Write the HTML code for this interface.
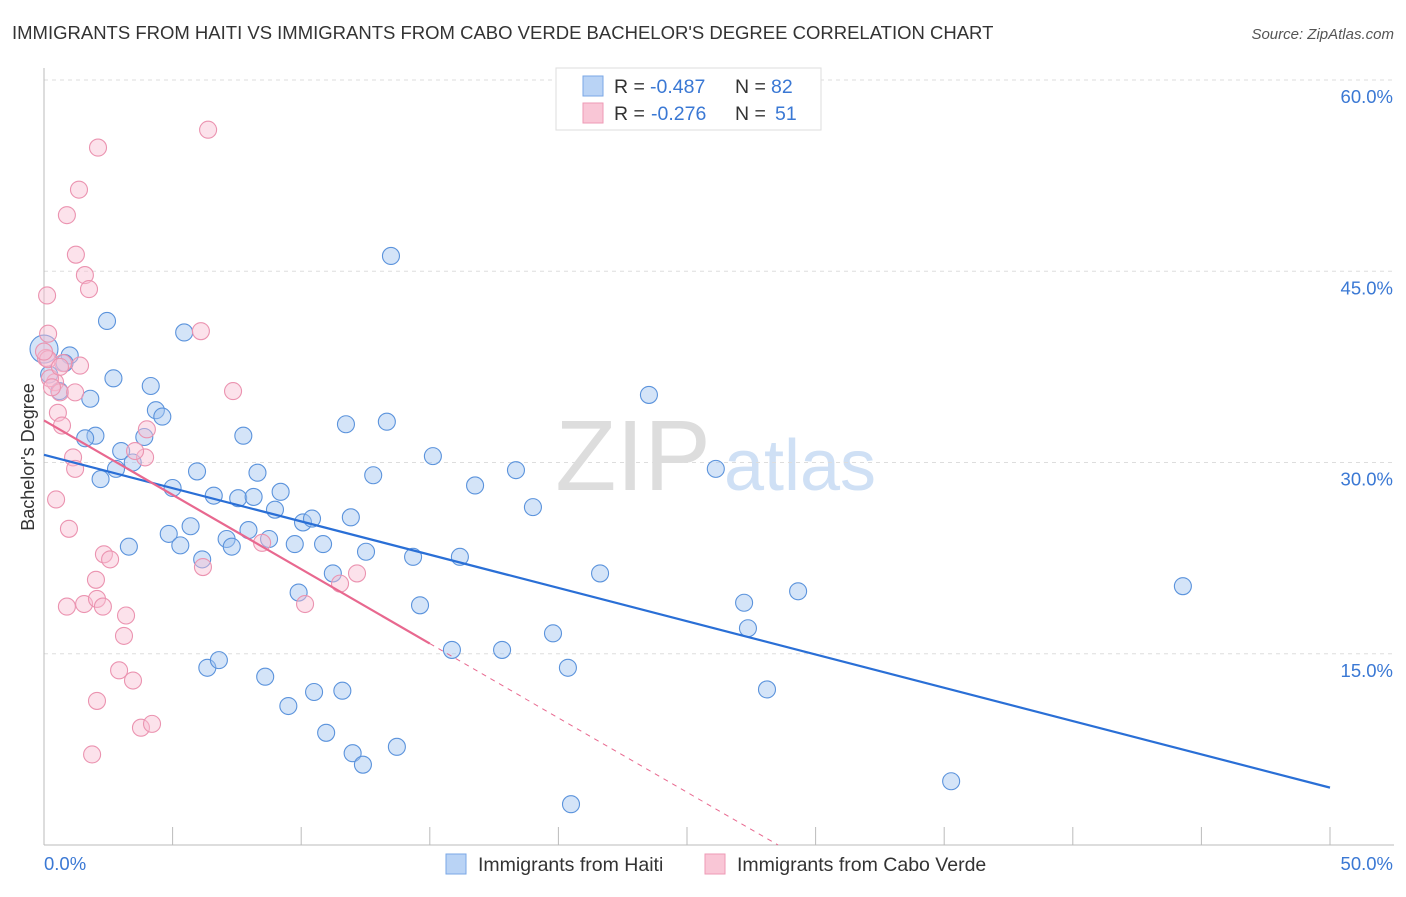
<!DOCTYPE html>
<html><head><meta charset="utf-8"><style>
body{margin:0;background:#fff;font-family:"Liberation Sans",sans-serif;}
svg text{font-family:"Liberation Sans",sans-serif;}
</style></head><body>
<svg id="chart" width="1406" height="892">
<text x="12" y="39" font-size="18.5" fill="#333">IMMIGRANTS FROM HAITI VS IMMIGRANTS FROM CABO VERDE BACHELOR'S DEGREE CORRELATION CHART</text>
<text x="1394" y="39" font-size="15" fill="#555" font-style="italic" text-anchor="end">Source: ZipAtlas.com</text>
<text x="633" y="490" font-size="100" fill="#ddd" font-family="Liberation Serif" text-anchor="middle">ZIP</text>
<text x="800" y="490" font-size="72" fill="#cfe0f5" text-anchor="middle">atlas</text>
<g id="grid"></g><g id="axes"></g><g id="pts"></g><g id="lines"></g>
<text transform="translate(34,457) rotate(-90)" font-size="18" fill="#333" text-anchor="middle">Bachelor's Degree</text>
<g>
<rect x="556" y="68" width="265" height="62" fill="#fff" stroke="#ddd"/>
<rect x="583" y="76" width="20" height="20" fill="#b9d3f5" stroke="#7aa7e6"/>
<rect x="583" y="103" width="20" height="20" fill="#f9c6d6" stroke="#ee9ab5"/>
<text x="614" y="93" font-size="19.5" fill="#333">R =</text>
<text x="650" y="93" font-size="19.5" fill="#3a78d4">-0.487</text>
<text x="735" y="93" font-size="19.5" fill="#333">N =</text>
<text x="771" y="93" font-size="19.5" fill="#3a78d4">82</text>
<text x="614" y="120" font-size="19.5" fill="#333">R =</text>
<text x="651" y="120" font-size="19.5" fill="#3a78d4">-0.276</text>
<text x="735" y="120" font-size="19.5" fill="#333">N =</text>
<text x="775" y="120" font-size="19.5" fill="#3a78d4">51</text>
</g>
<rect x="446" y="854" width="20" height="20" fill="#b9d3f5" stroke="#7aa7e6"/>
<text x="478" y="871" font-size="19.5" fill="#333">Immigrants from Haiti</text>
<rect x="705" y="854" width="20" height="20" fill="#f9c6d6" stroke="#ee9ab5"/>
<text x="737" y="871" font-size="19.5" fill="#333">Immigrants from Cabo Verde</text>
</svg>
<script>
const yTicks=[15,30,45,60];
const xTickLabels=["0.0%","50.0%"];
const haitiX=[0,0.2,0.6,1.0,0.8,1.8,2.45,2.0,1.6,2.2,2.8,2.7,3.0,3.3,3.45,3.9,4.15,4.35,4.6,4.85,5.0,5.3,5.45,5.7,5.95,6.15,6.35,6.6,6.8,7.1,7.3,7.55,7.75,7.95,8.15,8.3,8.6,8.75,8.98,9.2,9.5,9.75,9.9,10.07,10.42,10.5,10.85,10.97,11.23,11.6,11.74,11.93,12.0,12.4,12.52,12.8,13.33,13.49,13.72,14.35,14.62,15.12,15.86,16.17,16.76,17.81,18.35,19.01,19.79,20.37,20.49,21.62,23.52,26.12,27.22,27.37,28.11,29.32,35.27,44.28];
const haitiY=[38.9,36.9,35.6,38.4,37.8,35.0,41.1,32.1,31.9,28.7,29.5,36.6,30.9,23.4,30.0,32.0,36.0,34.1,33.6,24.4,28.0,23.5,40.2,25.0,29.3,22.4,13.9,27.4,14.5,24.0,23.4,27.2,32.1,24.7,27.3,29.2,13.2,24.0,26.3,27.7,10.9,23.6,19.8,25.3,25.6,12.0,23.6,8.8,21.3,12.1,33.0,25.7,7.2,6.3,23.0,29.0,33.2,46.2,7.7,22.6,18.8,30.5,15.3,22.6,28.2,15.3,29.4,26.5,16.6,13.9,3.2,21.3,35.3,29.5,19.0,17.0,12.2,19.9,5.0,20.3];
const caboX=[0.12,0.16,0.08,0.43,0.62,0.74,1.21,1.4,0.54,0.7,1.13,1.21,0.47,0.97,0.89,1.56,2.02,2.06,2.29,2.33,2.57,3.19,3.11,2.92,3.46,2.06,1.87,3.77,4.2,2.1,1.36,0.89,1.24,1.59,1.75,6.38,6.1,7.35,4.0,3.93,3.54,6.18,8.48,10.15,11.51,12.17,0.16,0.23,0.62,0,0.31];
const caboY=[43.1,40.1,38.2,36.3,35.5,37.8,35.5,37.6,33.9,32.9,30.4,29.5,27.1,24.8,18.7,18.9,20.8,19.3,18.7,22.8,22.4,18.0,16.4,13.7,12.9,11.3,7.1,9.2,9.5,54.7,51.4,49.4,46.3,44.7,43.6,56.1,40.3,35.6,32.6,30.4,30.9,21.8,23.7,18.9,20.5,21.3,38.1,36.6,37.5,38.7,35.9];
const haitiFit=[30.6,4.5];
const caboFit=[33.3,15.8];
const ns="http://www.w3.org/2000/svg";
const X0=44,X1=1330,YB=845,YT=80;
const sx=v=>X0+(v/50)*(X1-X0);
const sy=v=>YB-(v/60)*(YB-YT);
function mk(tag,attrs,parent){const e=document.createElementNS(ns,tag);for(const k in attrs)e.setAttribute(k,attrs[k]);parent.appendChild(e);return e;}
const grid=document.getElementById('grid'),axes=document.getElementById('axes'),pts=document.getElementById('pts'),lines=document.getElementById('lines');
yTicks.forEach(t=>{
 const l=mk('line',{x1:X0,x2:1394,y1:sy(t),y2:sy(t),stroke:'#ddd','stroke-dasharray':'4,4'},grid);
 
 
 const tx=mk('text',{x:1393,y:sy(t)+23,'font-size':18.5,fill:'#3a78d4','text-anchor':'end'},grid);
 tx.textContent=t.toFixed(1)+'%';
 
 
});
const ya=mk('line',{x1:X0,x2:X0,y1:68,y2:YB,stroke:'#bbb'},axes);


const xa=mk('line',{x1:X0,x2:1394,y1:YB,y2:YB,stroke:'#bbb'},axes);


for(let i=1;i<=10;i++){const t=mk('line',{x1:sx(i*5),x2:sx(i*5),y1:YB-18,y2:YB,stroke:'#bbb'},axes);
 
 }
[[0,'start',X0],[1,'end',1393]].forEach(([i,a,x])=>{const t=mk('text',{x:x,y:870,'font-size':18.5,fill:'#3a78d4','text-anchor':a},axes);t.textContent=xTickLabels[i];
 
 });
haitiX.forEach((v,i)=>{const c=mk('circle',{cx:sx(v),cy:sy(haitiY[i]),r:i==0?14:8.5,fill:'rgba(160,196,240,0.45)',stroke:'#5b93dc','stroke-width':1.1},pts);
 
 });
caboX.forEach((v,i)=>{const c=mk('circle',{cx:sx(v),cy:sy(caboY[i]),r:8.5,fill:'rgba(248,190,210,0.45)',stroke:'#eb93b0','stroke-width':1.1},pts);
 
 });
const hl=mk('line',{x1:sx(0),y1:sy(haitiFit[0]),x2:sx(50),y2:sy(haitiFit[1]),stroke:'#2a6fd6','stroke-width':2.2},lines);


const slope=(caboFit[1]-caboFit[0])/15;
const cl=mk('line',{x1:sx(0),y1:sy(caboFit[0]),x2:sx(15),y2:sy(caboFit[1]),stroke:'#e8688f','stroke-width':2.2},lines);


const xz=-caboFit[0]/slope;
const cd=mk('line',{x1:sx(15),y1:sy(caboFit[1]),x2:sx(xz),y2:sy(0),stroke:'#e8688f','stroke-width':1,'stroke-dasharray':'5,5'},lines);


</script>
</body></html>
